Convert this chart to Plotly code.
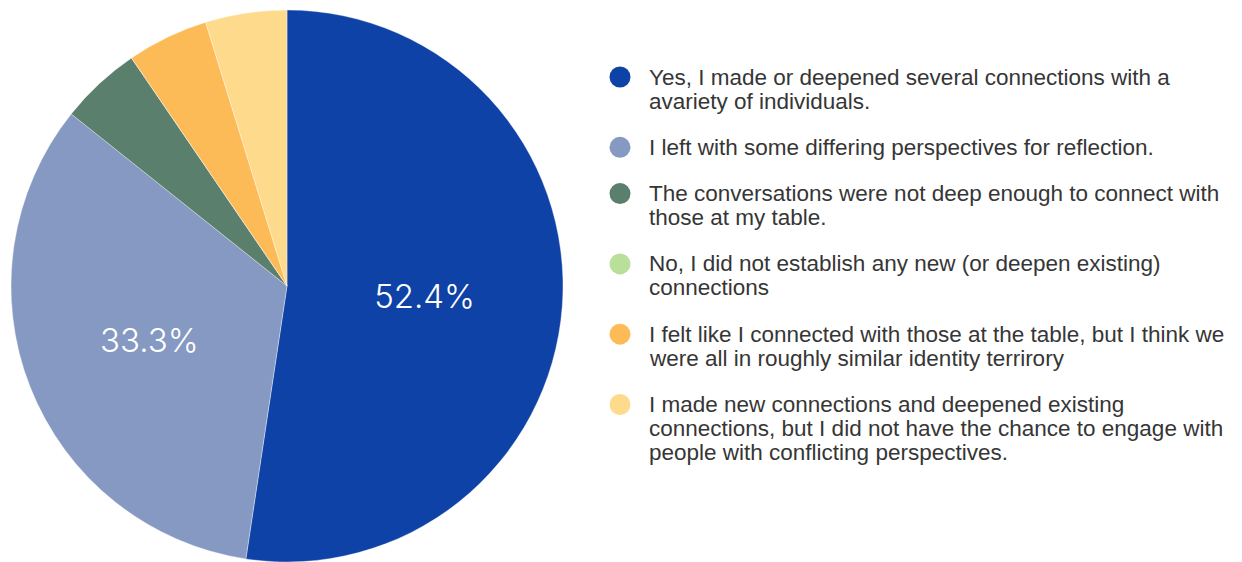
import plotly.graph_objects as go

# ---- data ----
categories = [
    "Yes, I made or deepened several connections with a\navariety of individuals.",
    "I left with some differing perspectives for reflection.",
    "The conversations were not deep enough to connect with\nthose at my table.",
    "No, I did not establish any new (or deepen existing)\nconnections",
    "I felt like I connected with those at the table, but I think we\nwere all in roughly similar identity terrirory",
    "I made new connections and deepened existing\nconnections, but I did not have the chance to engage with\npeople with conflicting perspectives.",
]
responses = [11, 7, 1, 0, 1, 1]
colors = ["#0E42A6", "#8599C2", "#5A7F6C", "#B8E09A", "#FDBB58", "#FEDA8D"]
label_shown = [True, True, False, False, False, False]

W, H = 1242, 562

fig = go.Figure()
fig.add_trace(go.Pie(
    values=responses,
    labels=[c.replace("\n", " ") for c in categories],
    marker=dict(colors=colors, line=dict(color="rgba(255,255,255,0.6)", width=0.6)),
    sort=False,
    direction="clockwise",
    rotation=0,
    texttemplate=["%{percent:.1%}" if s else "" for s in label_shown],
    textposition="inside",
    insidetextorientation="horizontal",
    insidetextfont=dict(color="white", size=33, family="Inter, Lato, sans-serif", weight=300),
    hoverinfo="skip",
    showlegend=False,
    domain=dict(x=[11 / W, 563 / W], y=[0, 1 - 10 / H]),
))

# ---- custom legend (circles + wrapped text) ----
line_h = 24.0
gap = 22.3
y0 = 77.0
circle_x = 620
text_x = 647
shapes = []
annotations = []
cum_lines = 0
for i, (cat, col) in enumerate(zip(categories, colors)):
    lines = cat.split("\n")
    yc = y0 + cum_lines * line_h + i * gap
    shapes.append(dict(
        type="circle", xref="paper", yref="paper",
        xsizemode="pixel", ysizemode="pixel",
        xanchor=circle_x / W, yanchor=1 - yc / H,
        x0=-10.5, x1=10.5, y0=-10.5, y1=10.5,
        fillcolor=col, line=dict(width=0),
    ))
    for j, ln in enumerate(lines):
        yl = yc + j * line_h
        annotations.append(dict(
            text=ln, xref="paper", yref="paper",
            x=text_x / W, y=1 - yl / H,
            xanchor="left", yanchor="middle", showarrow=False,
            font=dict(family="Liberation Sans, Arial, sans-serif", size=22.5, color="#363636"),
        ))
    cum_lines += len(lines)

fig.update_layout(
    width=W, height=H,
    margin=dict(l=0, r=0, t=0, b=0),
    paper_bgcolor="white", plot_bgcolor="white",
    shapes=shapes, annotations=annotations,
)

fig.write_html("out.html")
